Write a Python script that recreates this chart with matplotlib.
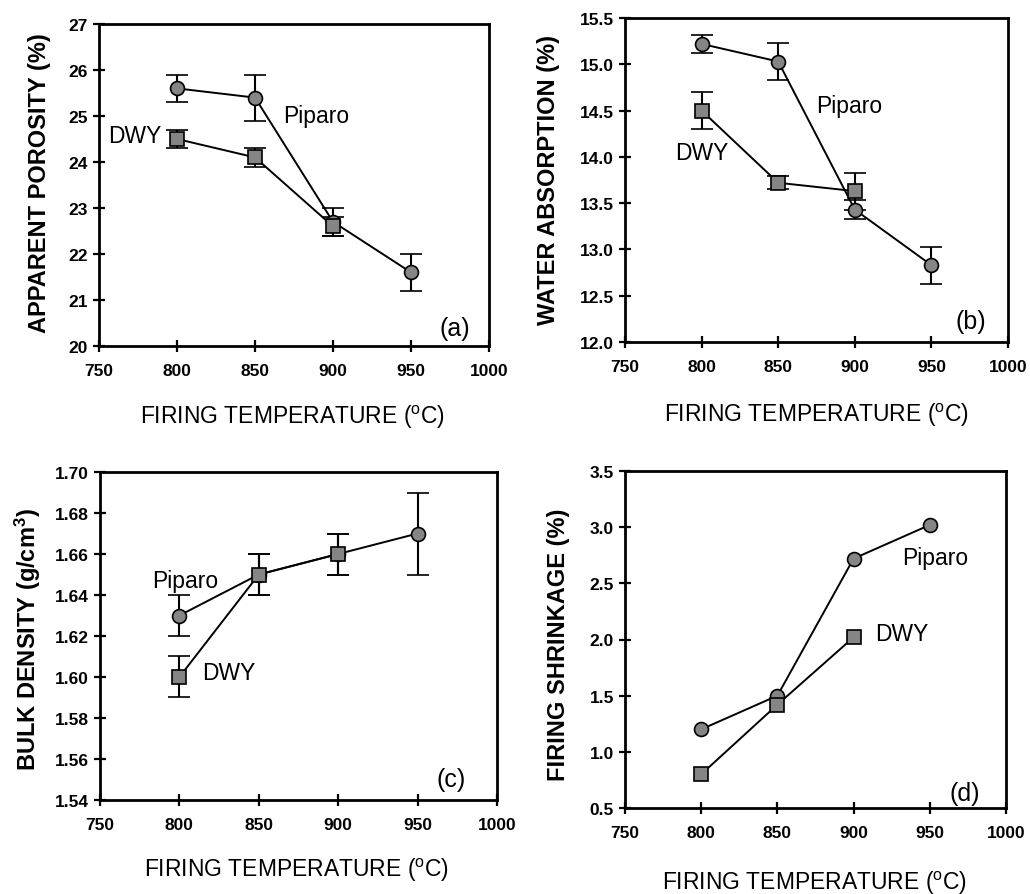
import matplotlib
matplotlib.use("Agg")
from matplotlib import pyplot as plt

plt.rcParams["font.family"] = ["Liberation Sans", "DejaVu Sans"]
plt.rcParams["mathtext.fontset"] = "custom"
plt.rcParams["mathtext.rm"] = "Liberation Sans"
plt.rcParams["mathtext.it"] = "Liberation Sans"
plt.rcParams["mathtext.bf"] = "Liberation Sans:bold"

# firing temperatures (deg C)
temp_piparo = [800, 850, 900, 950]
temp_dwy = [800, 850, 900]

# (a) apparent porosity (%)
por_piparo = [25.6, 25.4, 22.7, 21.6]
por_piparo_err = [0.3, 0.5, 0.3, 0.4]
por_dwy = [24.5, 24.1, 22.6]
por_dwy_err = [0.2, 0.2, 0.2]

# (b) water absorption (%)
wa_piparo = [15.22, 15.03, 13.43, 12.83]
wa_piparo_err = [0.1, 0.2, 0.1, 0.2]
wa_dwy = [14.5, 13.72, 13.63]
wa_dwy_err = [0.2, 0.07, 0.2]

# (c) bulk density (g/cm3)
bd_piparo = [1.63, 1.65, 1.66, 1.67]
bd_piparo_err = [0.01, 0.01, 0.01, 0.02]
bd_dwy = [1.60, 1.65, 1.66]
bd_dwy_err = [0.01, 0.01, 0.01]

# (d) firing shrinkage (%)
fs_piparo = [1.2, 1.5, 2.72, 3.02]
fs_dwy = [0.8, 1.42, 2.02]

W, H = 1030, 895
fig = plt.figure(figsize=(W / 100, H / 100), dpi=100)


def make_ax(x0, x1, y0, y1):
    # pixel box -> figure coords
    return fig.add_axes([x0 / W, 1 - y1 / H, (x1 - x0) / W, (y1 - y0) / H])


def style(ax, ylim, yticks, fmt):
    ax.set_xlim(750, 1000)
    ax.set_xticks([750, 800, 850, 900, 950, 1000])
    ax.set_ylim(*ylim)
    ax.set_yticks(yticks)
    ax.set_yticklabels([fmt.format(v) for v in yticks])
    for s in ax.spines.values():
        s.set_linewidth(2.0)
    ax.tick_params(direction="inout", length=8, width=1.6, labelsize=12.5)
    ax.tick_params(axis="x", pad=8)
    ax.tick_params(axis="y", pad=4)
    for lab in ax.get_xticklabels() + ax.get_yticklabels():
        lab.set_fontweight("bold")


def series(ax, x, y, err, marker):
    if err is None:
        ax.plot(x, y, color="black", lw=1.4, marker=marker, ms=10,
                mfc="#858585", mec="black", mew=1.2, zorder=3)
    else:
        ax.errorbar(x, y, yerr=err, color="black", lw=1.4, marker=marker, ms=10,
                    mfc="#858585", mec="black", mew=1.2, capsize=8,
                    elinewidth=1.5, capthick=1.5, zorder=3)


xlab = "FIRING TEMPERATURE ($^{o}$C)"
XL = 16.5
YL = 17
AN = 16.5
PN = 18

# (a)
ax = make_ax(99, 489, 25, 347)
style(ax, (20, 27), [20, 21, 22, 23, 24, 25, 26, 27], "{:.0f}")
series(ax, temp_piparo, por_piparo, por_piparo_err, "o")
series(ax, temp_dwy, por_dwy, por_dwy_err, "s")
ax.text(868, 25.0, "Piparo", fontsize=AN, va="center")
ax.text(756, 24.57, "DWY", fontsize=AN, va="center")
ax.text(968, 20.4, "(a)", fontsize=PN, va="center")
fig.text(40 / W, 1 - 183 / H, "APPARENT POROSITY (%)", rotation=90,
         ha="center", va="center", fontsize=YL, fontweight="bold")
fig.text(293 / W, 1 - 417 / H, xlab, ha="center", va="center", fontsize=XL)

# (b)
ax = make_ax(625, 1008, 19, 343)
style(ax, (12.0, 15.5), [12.0, 12.5, 13.0, 13.5, 14.0, 14.5, 15.0, 15.5], "{:.1f}")
series(ax, temp_piparo, wa_piparo, wa_piparo_err, "o")
series(ax, temp_dwy, wa_dwy, wa_dwy_err, "s")
ax.text(875, 14.56, "Piparo", fontsize=AN, va="center")
ax.text(783, 14.05, "DWY", fontsize=AN, va="center")
ax.text(966, 12.23, "(b)", fontsize=PN, va="center")
fig.text(548 / W, 1 - 180 / H, "WATER ABSORPTION (%)", rotation=90,
         ha="center", va="center", fontsize=YL, fontweight="bold")
fig.text(817 / W, 1 - 415 / H, xlab, ha="center", va="center", fontsize=XL)

# (c)
ax = make_ax(100, 497, 473, 801)
style(ax, (1.54, 1.70), [1.54, 1.56, 1.58, 1.60, 1.62, 1.64, 1.66, 1.68, 1.70], "{:.2f}")
series(ax, temp_piparo, bd_piparo, bd_piparo_err, "o")
series(ax, temp_dwy, bd_dwy, bd_dwy_err, "s")
ax.text(783, 1.647, "Piparo", fontsize=AN, va="center")
ax.text(814, 1.602, "DWY", fontsize=AN, va="center")
ax.text(962, 1.55, "(c)", fontsize=PN, va="center")
fig.text(28 / W, 1 - 640 / H, "BULK DENSITY (g/cm$\\mathbf{^{3}}$)", rotation=90,
         ha="center", va="center", fontsize=YL, fontweight="bold")
fig.text(297 / W, 1 - 870 / H, xlab, ha="center", va="center", fontsize=XL)

# (d)
ax = make_ax(625, 1006, 472, 809)
style(ax, (0.5, 3.5), [0.5, 1.0, 1.5, 2.0, 2.5, 3.0, 3.5], "{:.1f}")
series(ax, temp_piparo, fs_piparo, None, "o")
series(ax, temp_dwy, fs_dwy, None, "s")
ax.text(932, 2.73, "Piparo", fontsize=AN, va="center")
ax.text(914, 2.05, "DWY", fontsize=AN, va="center")
ax.text(963, 0.63, "(d)", fontsize=PN, va="center")
fig.text(558 / W, 1 - 645 / H, "FIRING SHRINKAGE (%)", rotation=90,
         ha="center", va="center", fontsize=YL, fontweight="bold")
fig.text(815 / W, 1 - 883 / H, xlab, ha="center", va="center", fontsize=XL)

plt.savefig("out.png", dpi=100)
